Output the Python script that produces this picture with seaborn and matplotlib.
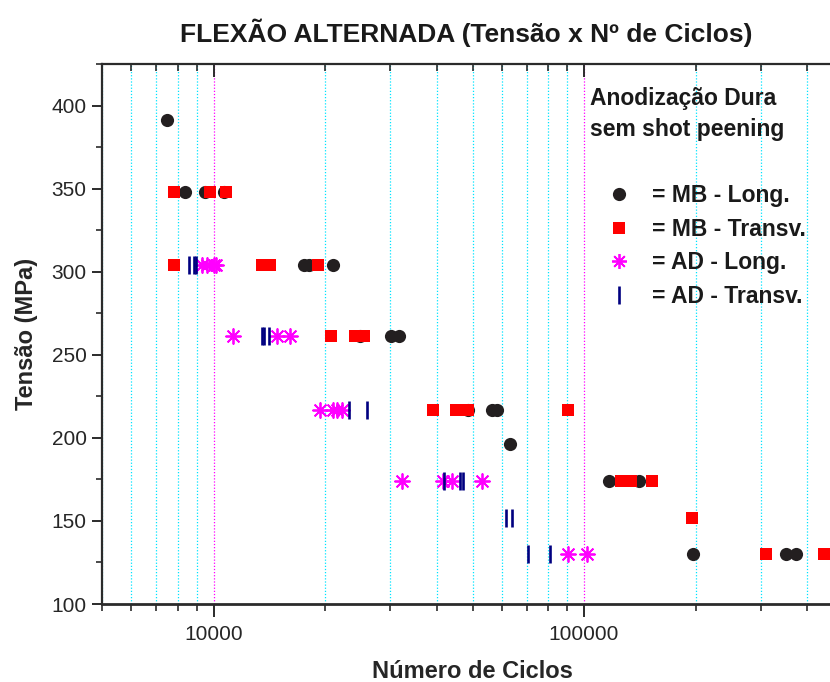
import matplotlib
matplotlib.use("Agg")
import matplotlib.pyplot as plt
from matplotlib import ticker
from matplotlib.lines import Line2D
import pandas as pd
import seaborn as sns

# Tensão (MPa) e número de ciclos até a falha de cada corpo de prova
mb_long_tensao = [391, 348, 348, 348, 304, 304, 304, 261, 261, 261,
                  217, 217, 217, 196, 174, 174, 130, 130, 130]
mb_long_ciclos = [7500, 8400, 9500, 10700, 17600, 18100, 21000, 24800, 30200, 31700,
                  48500, 56300, 58300, 63200, 116800, 141100, 196700, 350000, 374000]

mb_transv_tensao = [348, 348, 348, 304, 304, 304, 304, 261, 261, 261,
                    217, 217, 217, 217, 174, 174, 174, 152, 130, 130]
mb_transv_ciclos = [7800, 9800, 10800, 7800, 13500, 14200, 19100, 20800, 24100, 25500,
                    39100, 45000, 48700, 90300, 125900, 133700, 153000, 195500, 310500, 445000]

ad_long_tensao = [304, 304, 304, 304, 261, 261, 261, 217, 217, 217, 217,
                  174, 174, 174, 174, 130, 130]
ad_long_ciclos = [9300, 9600, 10000, 10150, 11300, 14800, 16100, 19400, 21000, 21500, 22200,
                  32300, 41500, 43900, 53100, 90500, 102000]

ad_transv_tensao = [304, 304, 304, 261, 261, 261, 217, 217, 174, 174, 174,
                    152, 152, 130, 130]
ad_transv_ciclos = [8600, 8850, 8940, 13500, 13700, 14100, 23200, 26000, 41900, 46300, 47000,
                    61400, 64000, 70600, 81100]

series_labels = ["= MB - Long.", "= MB - Transv.", "= AD - Long.", "= AD - Transv."]
x_ticks = [10000, 100000]
x_tick_labels = ["10000", "100000"]
y_ticks = [100, 150, 200, 250, 300, 350, 400]

sns.set_style("ticks")
plt.rcParams["font.family"] = ["Liberation Sans", "DejaVu Sans"]

W, H = 830, 682
fig = plt.figure(figsize=(W / 100, H / 100), dpi=100)
ax = fig.add_axes([102 / W, 1 - 604 / H, 741 / W, 540 / H])

spine_c = "#2b2b2b"
black = "#231f20"
red = "#ff0000"
magenta = "#ff00ff"
navy = "#000080"
asterisk = (8, 2, 0)

styles = [
    dict(marker="o", s=90, color=black, edgecolor=black, linewidth=0),
    dict(marker="s", s=85, color=red, edgecolor=red, linewidth=0),
    dict(marker=asterisk, s=115, color=magenta, linewidth=1.3),
    dict(marker="|", s=170, color=navy, linewidth=1.9),
]
datasets = [
    (mb_long_ciclos, mb_long_tensao),
    (mb_transv_ciclos, mb_transv_tensao),
    (ad_long_ciclos, ad_long_tensao),
    (ad_transv_ciclos, ad_transv_tensao),
]
for (cic, ten), st in zip(datasets, styles):
    df = pd.DataFrame({"ciclos": cic, "tensao": ten})
    sns.scatterplot(data=df, x="ciclos", y="tensao", ax=ax, legend=False,
                    zorder=3, **st)

ax.set_xscale("log")
ax.set_xlim(5000, 500000)
ax.set_ylim(100, 425)

ax.xaxis.set_major_locator(ticker.FixedLocator(x_ticks))
ax.xaxis.set_major_formatter(ticker.FixedFormatter(x_tick_labels))
ax.xaxis.set_minor_locator(ticker.LogLocator(base=10, subs=range(2, 10)))
ax.xaxis.set_minor_formatter(ticker.NullFormatter())
ax.yaxis.set_major_locator(ticker.FixedLocator(y_ticks))
ax.yaxis.set_minor_locator(ticker.MultipleLocator(25))

# vertical grid: cyan at the minor decades, magenta at each decade
ax.grid(which="minor", axis="x", color="#00e5ff", linestyle=(0, (1, 1.5)), linewidth=0.9)
ax.grid(which="major", axis="x", color="#ff00ff", linestyle=(0, (1, 1.5)), linewidth=0.9)
ax.set_axisbelow(True)

for side in ("left", "bottom", "top"):
    ax.spines[side].set_color(spine_c)
    ax.spines[side].set_linewidth(1.6)
ax.spines["bottom"].set_linewidth(2.0)
ax.spines["right"].set_visible(False)

ax.tick_params(axis="x", which="major", direction="out", length=9, width=1.4,
               color=spine_c, labelsize=15, pad=6, top=False)
ax.tick_params(axis="x", which="minor", direction="out", length=5, width=1.2,
               color=spine_c, top=False)
ax.tick_params(axis="y", which="major", direction="out", length=7, width=1.4,
               color=spine_c, labelsize=15, pad=4)
ax.tick_params(axis="y", which="minor", direction="out", length=4, width=1.2,
               color=spine_c)

# inward ticks along the top edge
top = ax.twiny()
top.set_xscale("log")
top.set_xlim(ax.get_xlim())
top.xaxis.set_major_locator(ticker.FixedLocator(x_ticks))
top.xaxis.set_minor_locator(ticker.LogLocator(base=10, subs=range(2, 10)))
top.xaxis.set_major_formatter(ticker.NullFormatter())
top.xaxis.set_minor_formatter(ticker.NullFormatter())
top.tick_params(axis="x", which="major", direction="in", length=9, width=1.4, color=spine_c)
top.tick_params(axis="x", which="minor", direction="in", length=5, width=1.2, color=spine_c)
for side in top.spines:
    top.spines[side].set_visible(False)

ax.set_xlabel("Número de Ciclos", fontsize=17, fontweight="bold", labelpad=12)
ax.set_ylabel("Tensão (MPa)", fontsize=17, fontweight="bold", labelpad=10)
fig.text(466 / W, 1 - 33 / H, "FLEXÃO ALTERNADA (Tensão x Nº de Ciclos)",
         ha="center", va="center", fontsize=19, fontweight="bold", color="#1a1a1a")

fig.text(590 / W, 1 - 87 / H, "Anodização Dura\nsem shot peening",
         ha="left", va="top", fontsize=16.5, fontweight="bold", color="#1a1a1a",
         linespacing=1.45)

handles = [
    Line2D([], [], ls="none", marker="o", ms=9.5, color=black, mec=black, mew=0),
    Line2D([], [], ls="none", marker="s", ms=9.2, color=red, mec=red, mew=0),
    Line2D([], [], ls="none", marker=asterisk, ms=10.7, color=magenta, mew=1.3),
    Line2D([], [], ls="none", marker="|", ms=13, color=navy, mew=1.9),
]
leg = fig.legend(handles, series_labels, loc="upper left",
                 bbox_to_anchor=(608 / W, 1 - 184 / H), frameon=False,
                 prop={"size": 16.5, "weight": "bold"}, handlelength=1.0,
                 handletextpad=0.9, labelspacing=0.46, borderpad=0, borderaxespad=0)
for t in leg.get_texts():
    t.set_color("#1a1a1a")

fig.savefig("out.png", dpi=100)
